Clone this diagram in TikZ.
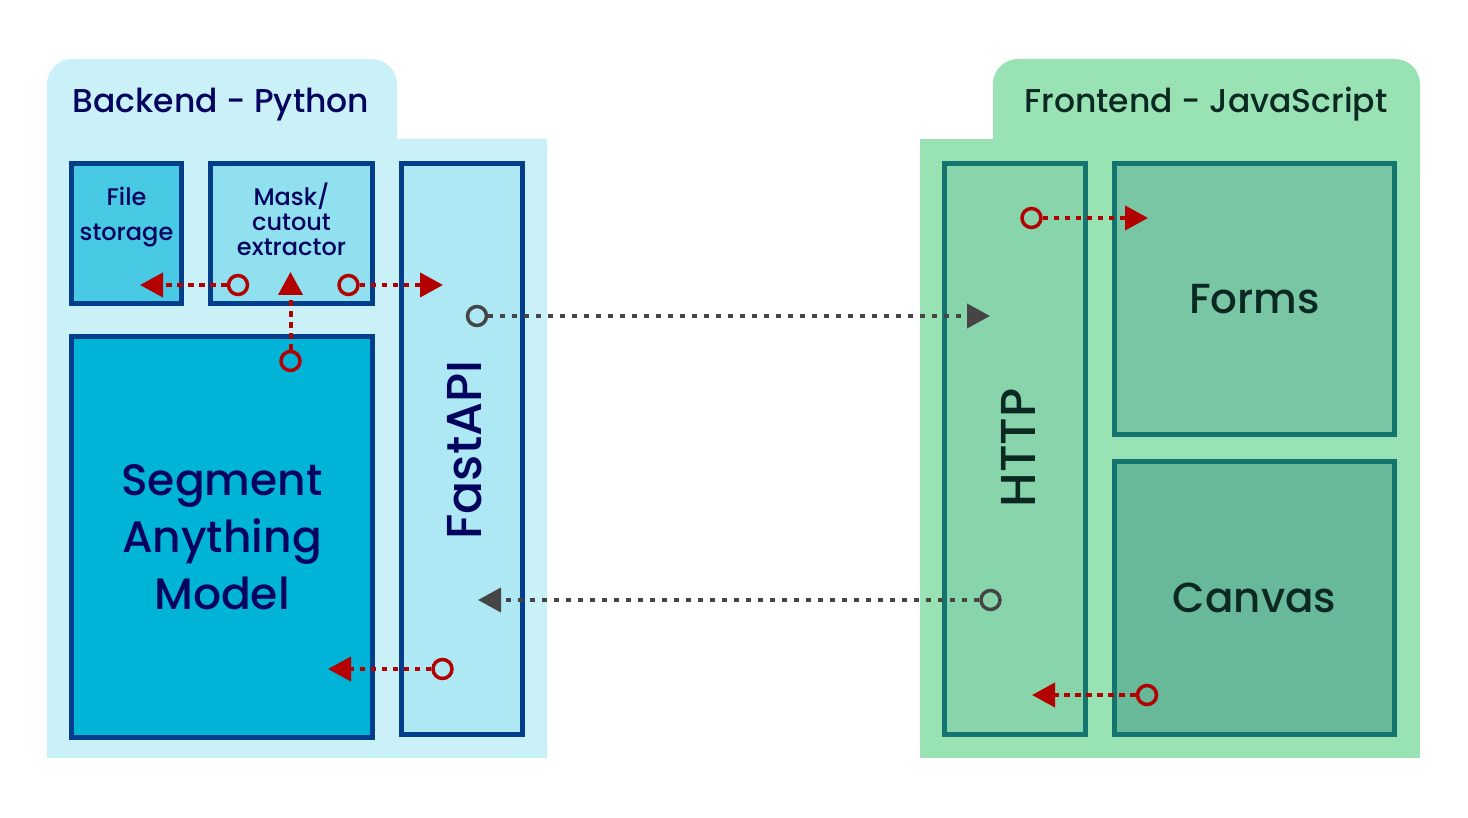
\documentclass[tikz,border=0pt]{standalone}
\usepackage{fontspec}
\setmainfont{Poppins}[UprightFont=* Medium]
\usepackage{tikz}
\usetikzlibrary{arrows.meta, positioning}

\definecolor{backbg}{HTML}{CAF0F8}
\definecolor{filefill}{HTML}{48CAE4}
\definecolor{maskfill}{HTML}{90E0EF}
\definecolor{samfill}{HTML}{00B4D8}
\definecolor{apifill}{HTML}{ADE8F4}
\definecolor{backline}{HTML}{023E8A}
\definecolor{backtext}{HTML}{03045E}
\definecolor{frontbg}{HTML}{99E2B4}
\definecolor{httpfill}{HTML}{88D4AB}
\definecolor{formfill}{HTML}{78C6A3}
\definecolor{canvfill}{HTML}{67B99A}
\definecolor{frontline}{HTML}{14746F}
\definecolor{fronttext}{HTML}{0B2922}
\definecolor{flowred}{HTML}{B30000}
\definecolor{flowgray}{HTML}{454545}

\begin{document}
\begin{tikzpicture}[
    x=0.5pt, y=-0.5pt,
    back/.style={draw=backline, line width=2.5pt, inner sep=0pt, text=backtext},
    front/.style={draw=frontline, line width=2.5pt, inner sep=0pt, text=fronttext},
    small/.style={inner sep=0pt, align=center, text=backtext},
    port/.style={circle, line width=1.75pt, minimum size=9.5pt, inner sep=0pt},
    redflow/.style={draw=flowred, line width=2pt, dash pattern=on 2.7pt off 2.8pt, -{Triangle[length=11.5pt, width=12pt]}},
    grayflow/.style={draw=flowgray, line width=2pt, dash pattern=on 2.5pt off 3.5pt, -{Triangle[length=11.5pt, width=12pt]}}
]
    \useasboundingbox (0,0) rectangle (1468,818);

    % --- Backend container ---
    \fill[backbg, rounded corners=12.5pt] (47,59) rectangle (397,200);
    \fill[backbg] (47,139) rectangle (547,758);
    \node[anchor=base west, inner sep=0pt, text=backtext, font=\fontsize{16.5}{20}\selectfont] (backtitle) at (72,113) {Backend - Python};

    \node[back, fill=filefill, minimum width=55pt, minimum height=70pt] (file) at (126.5,233.5) {};
    \node[back, fill=maskfill, minimum width=81pt, minimum height=70pt] (mask) at (291.5,233.5) {};
    \node[back, fill=samfill, minimum width=150.5pt, minimum height=200.5pt, align=center, font=\fontsize{22}{28.5}\selectfont] (sam) at (222,537) {Segment\\Anything\\Model};
    \node[back, fill=apifill, minimum width=60.5pt, minimum height=285.5pt] (api) at (462,449) {};
    \node[rotate=90, inner sep=0pt, text=backtext, font=\fontsize{24.5}{30}\selectfont] (apitxt) at (465,450) {FastAPI};

    \node[small, anchor=north, font=\fontsize{12}{17.5}\selectfont] (filetxt) at (126.5,187) {File\\storage};
    \node[small, anchor=north, font=\fontsize{12}{12.5}\selectfont] (masktxt) at (291.5,182) {Mask/\\cutout\\extractor};

    % --- Frontend container ---
    \fill[frontbg, rounded corners=12.5pt] (993,59) rectangle (1420,200);
    \fill[frontbg] (920,139) rectangle (1420,758);
    \node[anchor=base west, inner sep=0pt, text=fronttext, font=\fontsize{16.5}{20}\selectfont] (fronttitle) at (1024,113) {Frontend - JavaScript};

    \node[front, fill=httpfill, minimum width=70.5pt, minimum height=285.5pt] (http) at (1015,449) {};
    \node[rotate=90, inner sep=0pt, text=fronttext, font=\fontsize{24.5}{30}\selectfont] (httptxt) at (1018,448) {HTTP};
    \node[front, fill=formfill, minimum width=140pt, minimum height=135.5pt, font=\fontsize{21}{26}\selectfont] (forms) at (1254.5,299) {Forms};
    \node[front, fill=canvfill, minimum width=140pt, minimum height=136.5pt, font=\fontsize{21}{26}\selectfont] (canvas) at (1254.5,598) {Canvas};

    % --- Flows inside the backend ---
    \node[port, draw=flowred] (p1) at (238,285) {};
    \coordinate (t1) at (140,285);
    \draw[redflow] (p1) -- (t1);

    \node[port, draw=flowred] (p2) at (290.5,361) {};
    \coordinate (t2) at (290.5,272);
    \draw[redflow] (p2) -- (t2);

    \node[port, draw=flowred] (p3) at (348.5,285) {};
    \coordinate (t3) at (443,285);
    \draw[redflow] (p3) -- (t3);

    \node[port, draw=flowred] (p4) at (442.5,669) {};
    \coordinate (t4) at (328,669);
    \draw[redflow] (p4) -- (t4);

    % --- Flows inside the frontend ---
    \node[port, draw=flowred] (p5) at (1031.5,218) {};
    \coordinate (t5) at (1148,218);
    \draw[redflow] (p5) -- (t5);

    \node[port, draw=flowred] (p6) at (1147,695) {};
    \coordinate (t6) at (1032,695);
    \draw[redflow] (p6) -- (t6);

    % --- Requests between the two sides ---
    \node[port, draw=flowgray] (p7) at (477,316) {};
    \coordinate (t7) at (990,316);
    \draw[grayflow] (p7) -- (t7);

    \node[port, draw=flowgray] (p8) at (990.5,600) {};
    \coordinate (t8) at (478,600);
    \draw[grayflow] (p8) -- (t8);

\end{tikzpicture}
\end{document}
